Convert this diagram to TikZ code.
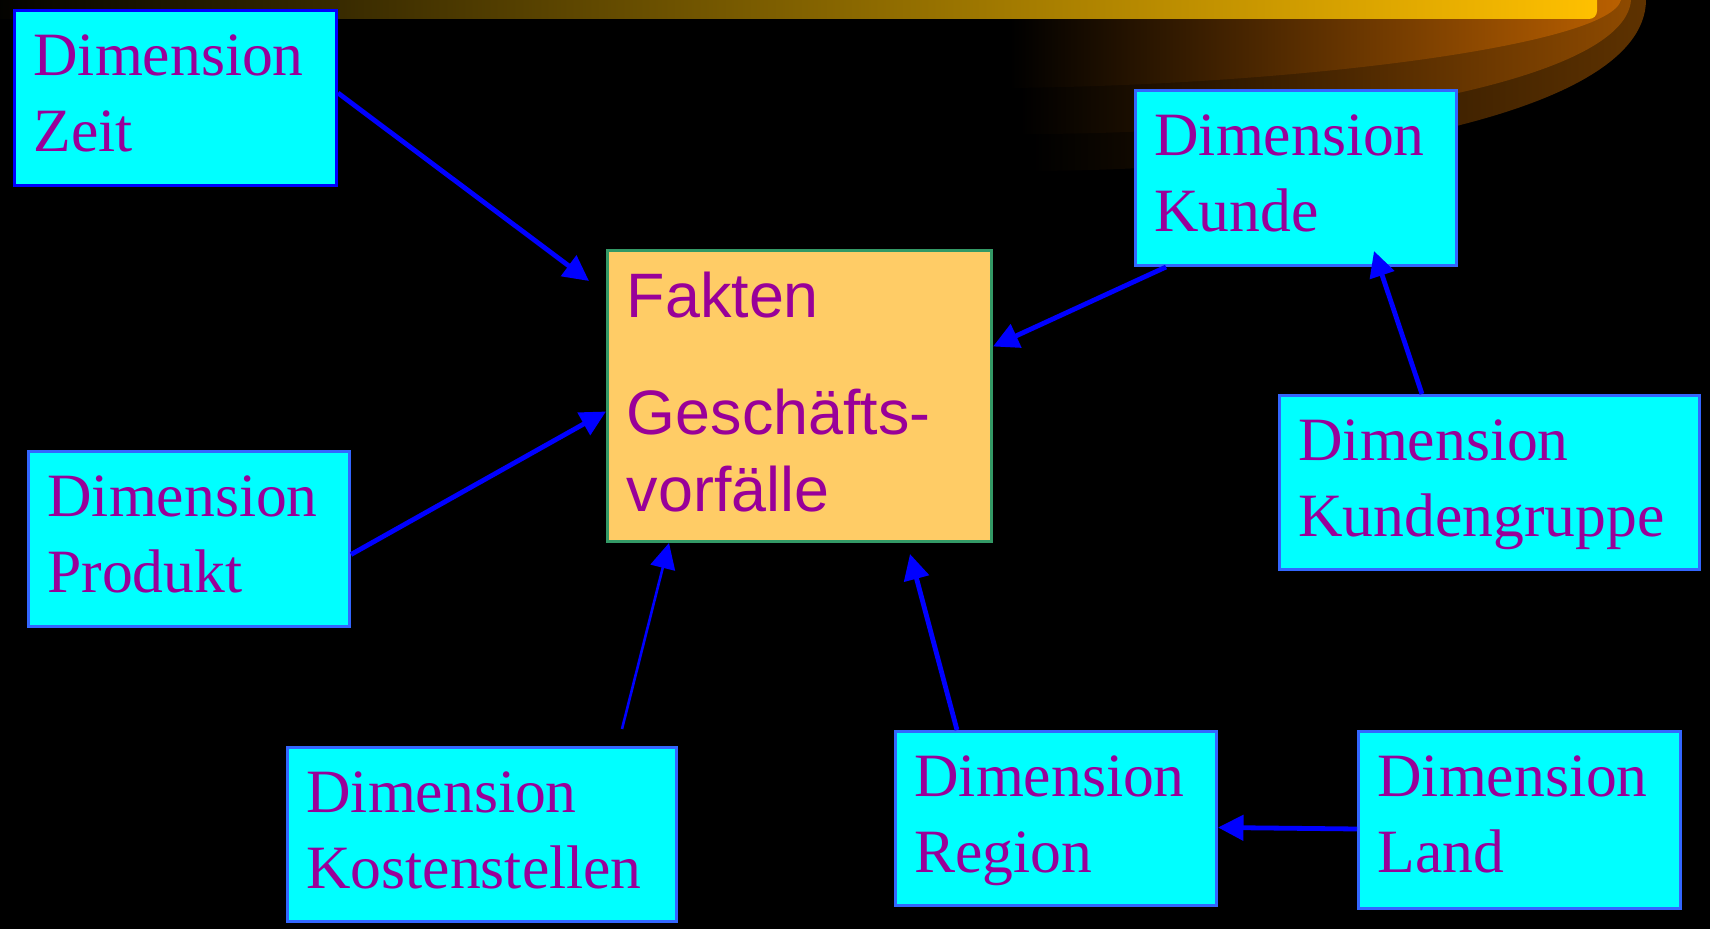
\documentclass[tikz,border=0pt]{standalone}
\usepackage{fontspec}
\setmainfont{Liberation Serif}
\newfontfamily\factfont{Liberation Sans}
\usetikzlibrary{arrows.meta,calc}

\definecolor{dimcyan}{HTML}{00FFFF}
\definecolor{dimedge}{HTML}{3366FF}
\definecolor{labelmag}{HTML}{990099}
\definecolor{factfill}{HTML}{FFCC66}
\definecolor{factedge}{HTML}{339966}
\definecolor{linkblue}{HTML}{0000FF}
\definecolor{bargold}{HTML}{FFC000}
\definecolor{swooshA}{HTML}{BA6000}
\definecolor{swooshB}{HTML}{8E4A00}
\definecolor{swooshC}{HTML}{5E3200}

% two stacked label lines; the node's base is the first baseline
\newcommand\twolines[2]{\vtop{\baselineskip=38pt\hbox{#1}\hbox{#2}}}

\tikzset{
  dimbox/.style={draw=dimedge, line width=1.5pt, fill=dimcyan, inner sep=0pt,
    anchor=north west},
  factbox/.style={draw=factedge, line width=1.5pt, fill=factfill, inner sep=0pt,
    anchor=north west},
  dimtext/.style={text=labelmag, anchor=base west, inner sep=0pt,
    font=\fontsize{30.8pt}{38pt}\selectfont},
  facttext/.style={text=labelmag, anchor=base west, inner sep=0pt,
    font=\factfont\fontsize{31.4pt}{38.5pt}\selectfont},
  link/.style={draw=linkblue, line width=2.4pt,
    -{Triangle[length=12.75pt,width=12.5pt]}},
  thinlink/.style={link, line width=1.3pt},
}

\begin{document}
\begin{tikzpicture}[x=0.5pt, y=-0.5pt]
  \useasboundingbox (0,0) rectangle (1710,929);
  \fill[black] (0,0) rectangle (1710,929);

  % title swoosh: three fading layers under a golden bar
  \shade[left color=black, right color=swooshC]
    (1032,-5) -- (1646,-5) -- (1646,0)
    .. controls (1645,120) and (1300,170) .. (1032,171) -- cycle;
  \shade[left color=black, right color=swooshB]
    (1020,-5) -- (1631,-5) -- (1631,0)
    .. controls (1625,85) and (1300,135) .. (1020,134) -- cycle;
  \shade[left color=black, right color=swooshA]
    (1010,-5) -- (1621,-5) -- (1621,0)
    .. controls (1610,45) and (1300,85) .. (1010,88) -- cycle;
  \shade[left color=black, right color=bargold, rounded corners=4pt]
    (-20,-20) rectangle (1597,19);

  % boxes
  \node[dimbox, draw=linkblue, minimum width=161pt, minimum height=87.5pt] (zeit) at (13,9) {};
  \node[factbox, minimum width=192pt, minimum height=145.5pt] (fakten) at (606,249) {};
  \node[dimbox, minimum width=160.5pt, minimum height=87.5pt] (kunde) at (1134,89) {};
  \node[dimbox, minimum width=210pt, minimum height=87pt] (kgruppe) at (1278,394) {};
  \node[dimbox, minimum width=160.5pt, minimum height=87.5pt] (produkt) at (27,450) {};
  \node[dimbox, minimum width=194.5pt, minimum height=87pt] (kosten) at (286,746) {};
  \node[dimbox, minimum width=160.5pt, minimum height=87pt] (region) at (894,730) {};
  \node[dimbox, minimum width=161pt, minimum height=88.5pt] (land) at (1357,730) {};

  % labels
  \node[dimtext] (zeit-t) at ($(zeit.north west)+(20,67)$) {\twolines{Dimension}{Zeit}};
  \node[dimtext] (kunde-t) at ($(kunde.north west)+(20,67)$) {\twolines{Dimension}{Kunde}};
  \node[dimtext] (kgruppe-t) at ($(kgruppe.north west)+(20,67)$) {\twolines{Dimension}{Kundengruppe}};
  \node[dimtext] (produkt-t) at ($(produkt.north west)+(20,67)$) {\twolines{Dimension}{Produkt}};
  \node[dimtext] (kosten-t) at ($(kosten.north west)+(20,67)$) {\twolines{Dimension}{Kostenstellen}};
  \node[dimtext] (region-t) at ($(region.north west)+(20,67)$) {\twolines{Dimension}{Region}};
  \node[dimtext] (land-t) at ($(land.north west)+(20,67)$) {\twolines{Dimension}{Land}};
  \node[facttext] (fakten-t) at ($(fakten.north west)+(20.5,69)$)
    {\vtop{\baselineskip=38.5pt\hbox{Fakten}\vskip20pt\hbox{Geschäfts-}\hbox{vorfälle}}};

  % free arrow ends
  \coordinate (zeit-end) at (589,281);
  \coordinate (kosten-start) at (622,729);
  \coordinate (region-end) at (910,554);
  \coordinate (kunde-end) at (1374,251);

  % connectors
  \draw[link] ([yshift=2.5pt]zeit.east) -- (zeit-end);
  \draw[link] ([yshift=-7.75pt]produkt.east) -- ([yshift=-7.75pt]fakten.west);
  \draw[thinlink] (kosten-start) -- ($(fakten.south west)+(63,0)$);
  \draw[link] ($(region.north west)+(63,0)$) -- (region-end);
  \draw[link] ($(kunde.south west)+(32,0)$) -- ([yshift=24.75pt]fakten.east);
  \draw[link] ($(kgruppe.north west)+(144,0)$) -- (kunde-end);
  \draw[link] ([yshift=-4.5pt]land.west) -- ([yshift=-4.5pt]region.east);
\end{tikzpicture}
\end{document}
